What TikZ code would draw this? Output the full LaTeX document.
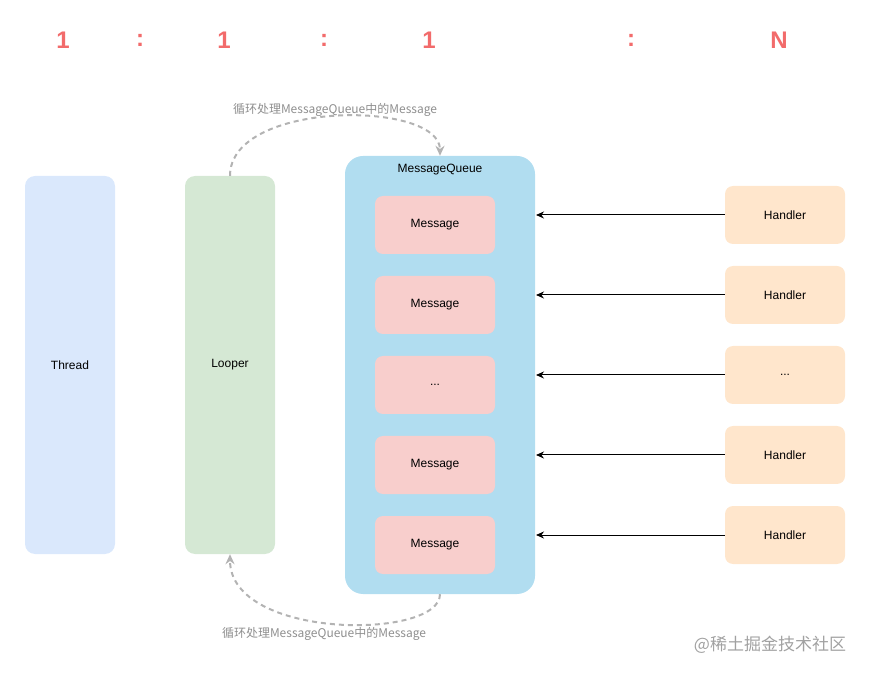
\documentclass[tikz,border=0pt]{standalone}
\usepackage{fontspec}
\setmainfont{Liberation Sans}
\newfontfamily\cjk{Noto Sans CJK SC}
\usetikzlibrary{arrows.meta}
\definecolor{ratio}{HTML}{F26B6B}
\definecolor{thr}{HTML}{DAE8FC}
\definecolor{loo}{HTML}{D5E8D4}
\definecolor{mq}{HTML}{B1DDF0}
\definecolor{msg}{HTML}{F8CECC}
\definecolor{han}{HTML}{FFE6CC}
\definecolor{dash}{HTML}{B3B3B3}
\newcommand\mydots{...}
\begin{document}
\begin{tikzpicture}[x=1pt,y=-1pt,
  box/.style={draw=none,rounded corners=8pt,minimum width=120pt,minimum height=58pt,font=\fontsize{12}{13}\selectfont,inner sep=0pt},
  big/.style={draw=none,rounded corners=10pt,minimum width=90pt,minimum height=378pt,font=\fontsize{12}{13}\selectfont,inner sep=0pt},
  rat/.style={text=ratio,font=\bfseries\fontsize{24}{26}\selectfont},
  loopar/.style={draw=dash,dashed,dash pattern=on 5pt off 4pt,line width=2pt,-{Stealth[length=10pt,width=9pt]}},
  note/.style={text=dash!80!black,font=\cjk\fontsize{12}{13}\selectfont}]
\useasboundingbox (0,0) rectangle (871,676);
\node[rat] (r1) at (63,40) {1};
\node[rat] (c1) at (140,40) {:};
\node[rat] (r2) at (224,40) {1};
\node[rat] (c2) at (324,40) {:};
\node[rat] (r3) at (429,40) {1};
\node[rat] (c3) at (631,40) {:};
\node[rat] (rn) at (779,40) {N};
\node[big,fill=thr] (thread) at (70,365) {Thread};
\node[big,fill=loo] (looper) at (230,365) {Looper};
\node[draw=none,fill=mq,rounded corners=18pt,minimum width=190pt,minimum height=438pt] (mq) at (440,375) {};
\node[font=\fontsize{12}{13}\selectfont] (mqt) at (440,170) {MessageQueue};
\foreach \i/\y/\t in {1/225/Message,2/305/Message,3/385/\mydots,4/465/Message,5/545/Message}{
  \node[box,fill=msg] (m\i) at (435,\y) {\t};}
\foreach \i/\y/\t in {1/215/Handler,2/295/Handler,3/375/\mydots,4/455/Handler,5/535/Handler}{
  \node[box,fill=han] (h\i) at (785,\y) {\t};
  \coordinate (e\i) at (536,\y);
  \draw[-{Stealth[length=8pt,width=7pt]},line width=1pt] (h\i) -- (e\i);}
\draw[loopar] (looper.north) .. controls (230,100) and (440,100) .. (mq.north);
\draw[loopar] (mq.south) .. controls (440,640) and (230,640) .. (looper.south);
\node[note] (n1) at (335,110) {循环处理MessageQueue中的Message};
\node[note] (n2) at (324,634) {循环处理MessageQueue中的Message};
\node[text=dash!90!black,font=\cjk\fontsize{17}{18}\selectfont] (wm) at (770,645) {@稀土掘金技术社区};
\end{tikzpicture}
\end{document}
